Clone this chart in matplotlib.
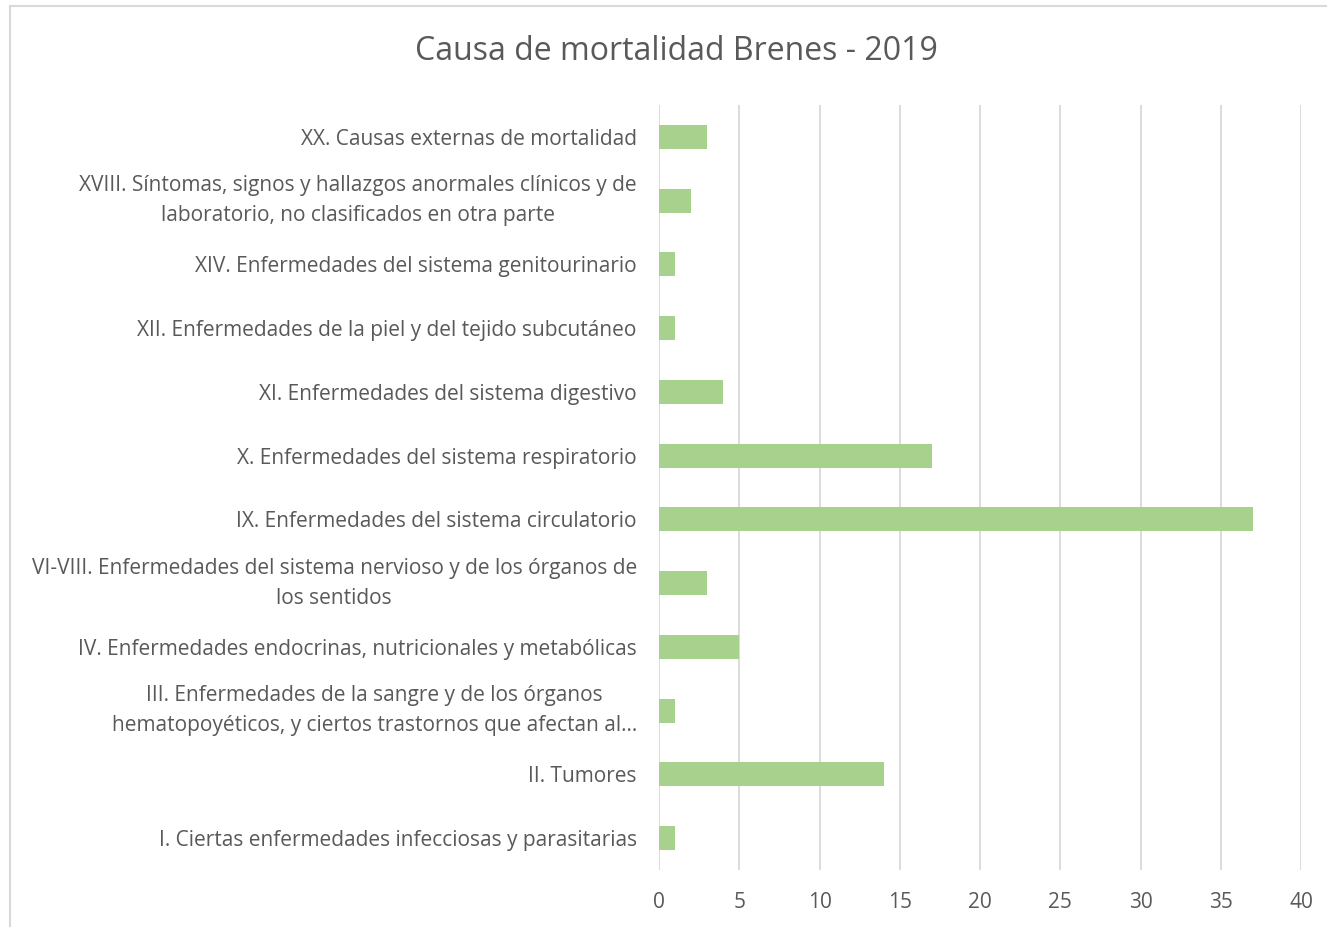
import matplotlib.pyplot as plt
from matplotlib.lines import Line2D

# data (bottom to top as drawn)
causas = [
    'I. Ciertas enfermedades infecciosas y parasitarias',
    'II. Tumores',
    'III. Enfermedades de la sangre y de los órganos\nhematopoyéticos, y ciertos trastornos que afectan al…',
    'IV. Enfermedades endocrinas, nutricionales y metabólicas',
    'VI-VIII. Enfermedades del sistema nervioso y de los órganos de\nlos sentidos',
    'IX. Enfermedades del sistema circulatorio',
    'X. Enfermedades del sistema respiratorio',
    'XI. Enfermedades del sistema digestivo',
    'XII. Enfermedades de la piel y del tejido subcutáneo',
    'XIV. Enfermedades del sistema genitourinario',
    'XVIII. Síntomas, signos y hallazgos anormales clínicos y de\nlaboratorio, no clasificados en otra parte',
    'XX. Causas externas de mortalidad',
]
defunciones = [1, 14, 1, 5, 3, 37, 17, 4, 1, 1, 2, 3]
xticks = [0, 5, 10, 15, 20, 25, 30, 35, 40]

W, H = 1327, 927
txt = '#595959'
grid = '#D9D9D9'
plt.rcParams['font.family'] = ['Open Sans', 'DejaVu Sans']

fig = plt.figure(figsize=(W / 100, H / 100), dpi=100)
ax = fig.add_axes([659 / W, 57 / H, 642 / W, 765 / H])

pos = list(range(len(causas)))
ax.barh(pos, defunciones, height=0.375, color='#A9D18E', zorder=3)
ax.set_ylim(-0.5, len(causas) - 0.5)
ax.set_xlim(0, 40)
ax.set_xticks(xticks)
ax.set_yticks(pos)
ax.set_yticklabels(causas, fontsize=15, color=txt, multialignment='center',
                   linespacing=1.55)
# wrapped labels: center the whole block on the bar
for lab in ax.get_yticklabels():
    if '\n' in lab.get_text():
        lab.set_va('center')
ax.tick_params(axis='y', length=0, pad=16)
ax.tick_params(axis='x', length=0, pad=16, labelsize=15, labelcolor=txt)
ax.grid(axis='x', color=grid, linewidth=1.3, zorder=0)
for s in ax.spines.values():
    s.set_visible(False)

fig.text(676 / W, 1 - 52 / H, 'Causa de mortalidad Brenes - 2019',
         ha='center', va='center', fontsize=23, color=txt)

# chart frame (only top and left edges visible in the crop)
fig.add_artist(Line2D([9.5 / W, 1], [1 - 5.5 / H, 1 - 5.5 / H], color=grid, lw=1.5))
fig.add_artist(Line2D([9.5 / W, 9.5 / W], [0, 1 - 5.5 / H], color=grid, lw=1.5))

fig.savefig('out.png', dpi=100)
